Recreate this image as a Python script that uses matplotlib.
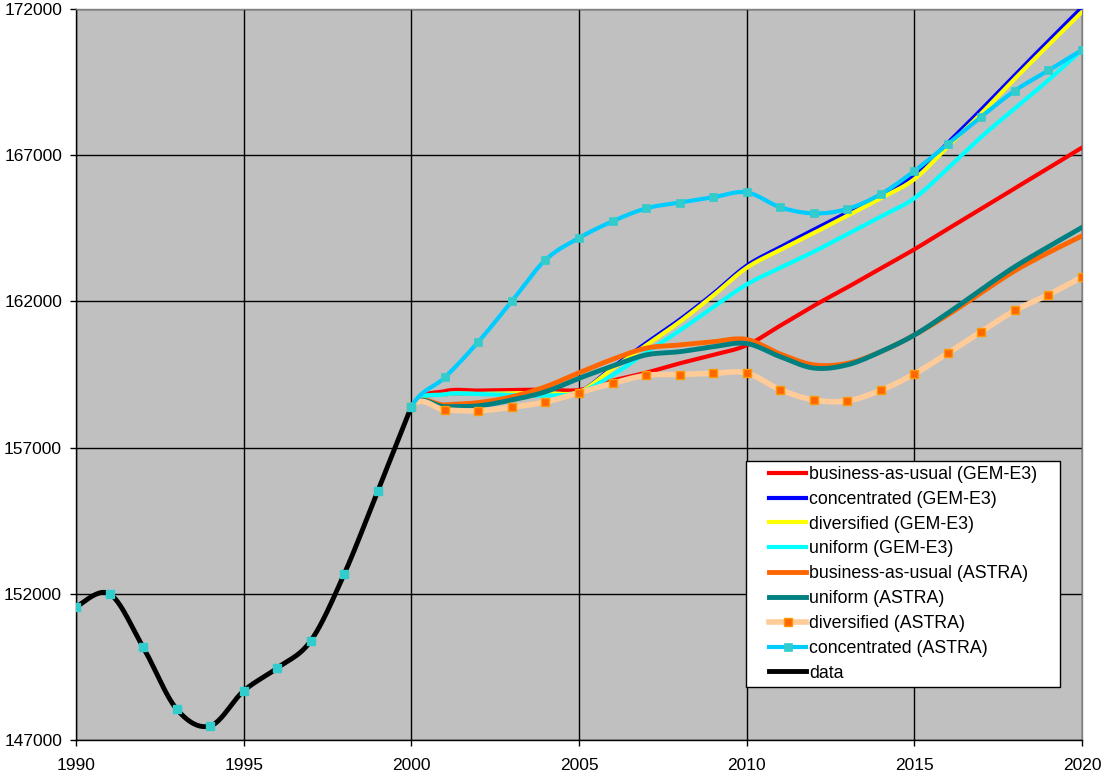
import numpy as np
import matplotlib
matplotlib.use("Agg")
import matplotlib.pyplot as plt
from matplotlib.patches import Rectangle

plt.rcParams['font.family'] = ['Liberation Sans', 'DejaVu Sans']

# ---------------- data ----------------
years_hist = [1990, 1991, 1992, 1993, 1994, 1995, 1996, 1997, 1998, 1999, 2000]
data_hist = [151550, 152000, 150180, 148060, 147480, 148680, 149460, 150390, 152680, 155520, 158400]

years_proj = list(range(2000, 2021))
bau_gem = [158400, 158930, 158950, 158970, 158980, 158970, 159290, 159560, 159880, 160170, 160500,
           161170, 161850, 162480, 163130, 163780, 164480, 165170, 165870, 166560, 167260]
conc_gem = [158400, 158820, 158840, 158860, 158870, 158900, 159740, 160570, 161370, 162260, 163220,
            163850, 164450, 165030, 165620, 166300, 167420, 168560, 169740, 170900, 172050]
div_gem = [158400, 158820, 158840, 158860, 158870, 158900, 159700, 160500, 161300, 162200, 163150,
           163760, 164340, 164930, 165530, 166180, 167300, 168430, 169620, 170770, 171900]
uni_gem = [158400, 158820, 158830, 158800, 158780, 158880, 159480, 160250, 161000, 161800, 162580,
           163150, 163700, 164300, 164900, 165530, 166550, 167630, 168600, 169570, 170600]
bau_astra = [158400, 158460, 158540, 158740, 159080, 159560, 160020, 160400, 160510, 160620, 160700,
             160200, 159830, 159880, 160280, 160850, 161540, 162300, 163050, 163670, 164240]
uni_astra = [158400, 158400, 158430, 158630, 158910, 159370, 159790, 160170, 160280, 160450, 160560,
             160110, 159720, 159830, 160280, 160850, 161600, 162410, 163190, 163870, 164530]
div_astra = [158400, 158290, 158260, 158380, 158560, 158880, 159200, 159470, 159500, 159540, 159550,
             158980, 158630, 158600, 158960, 159520, 160230, 160970, 161690, 162230, 162830]
conc_astra = [158400, 159400, 160620, 162010, 163420, 164170, 164740, 165180, 165380, 165560, 165730,
              165220, 165010, 165160, 165670, 166460, 167380, 168320, 169210, 169900, 170600]

labels = ["business-as-usual (GEM-E3)", "concentrated (GEM-E3)", "diversified (GEM-E3)",
          "uniform (GEM-E3)", "business-as-usual (ASTRA)", "uniform (ASTRA)",
          "diversified (ASTRA)", "concentrated (ASTRA)", "data"]

x_ticks = [1990, 1995, 2000, 2005, 2010, 2015, 2020]
y_ticks = [147000, 152000, 157000, 162000, 167000, 172000]


def smooth(x, y, n=24):
    """Excel-like smoothed line (Catmull-Rom Bezier)."""
    P = np.column_stack([np.asarray(x, float), np.asarray(y, float)])
    m = len(P)
    out = []
    for i in range(m - 1):
        p0 = P[i - 1] if i > 0 else P[i]
        p1 = P[i]
        p2 = P[i + 1]
        p3 = P[i + 2] if i + 2 < m else P[i + 1]
        c1 = p1 + (p2 - p0) / 6.0
        c2 = p2 - (p3 - p1) / 6.0
        t = np.linspace(0, 1, n, endpoint=(i == m - 2))[:, None]
        seg = ((1 - t) ** 3) * p1 + 3 * ((1 - t) ** 2) * t * c1 + 3 * (1 - t) * t ** 2 * c2 + t ** 3 * p2
        out.append(seg)
    out = np.vstack(out)
    return out[:, 0], out[:, 1]


def proj_curve(vals):
    xs = [years_hist[-2]] + years_proj
    ys = [data_hist[-2]] + list(vals)
    sx, sy = smooth(xs, ys)
    keep = sx >= years_proj[0]
    return sx[keep], sy[keep]


fig = plt.figure(figsize=(11.04, 7.78), dpi=100)
W, H = 1104, 778
ax = fig.add_axes([76 / W, 38 / H, (1082 - 76) / W, (740 - 9) / H])
ax.set_facecolor('#C0C0C0')

series = [
    (bau_gem, dict(color='#FF0000', lw=3.0)),
    (conc_gem, dict(color='#0000FF', lw=3.0)),
    (div_gem, dict(color='#FFFF00', lw=3.0)),
    (uni_gem, dict(color='#00FFFF', lw=3.0)),
    (bau_astra, dict(color='#FF6600', lw=3.5)),
    (uni_astra, dict(color='#008080', lw=3.5)),
    (div_astra, dict(color='#FFCC99', lw=4.0, marker='s', markersize=5.5,
                     markerfacecolor='#FF6600', markeredgecolor='#FF9900', markeredgewidth=1.0)),
    (conc_astra, dict(color='#00CCFF', lw=3.0, marker='s', markersize=5.5,
                      markerfacecolor='#33CCCC', markeredgecolor='#33CCCC', markeredgewidth=0.5)),
]

handles = []
for k, (vals, st) in enumerate(series):
    sx, sy = proj_curve(vals)
    line_st = {kk: v for kk, v in st.items() if not kk.startswith('marker')}
    ax.plot(sx, sy, solid_capstyle='round', zorder=3 + k * 0.01, **line_st)
    if 'marker' in st:
        mk = {kk: v for kk, v in st.items() if kk.startswith('marker')}
        ax.plot(years_proj, vals, linestyle='none', zorder=3 + k * 0.01 + 0.005, **mk)
    h, = ax.plot([], [], label=labels[k], **st)
    handles.append(h)

# historical data
hx, hy = smooth(years_hist, data_hist)
ax.plot(hx, hy, color='black', lw=3.5, zorder=3.2, solid_capstyle='round')
ax.plot(years_hist, data_hist, linestyle='none', marker='s', markersize=5.5,
        markerfacecolor='#33CCCC', markeredgecolor='#33CCCC', zorder=3.3)
h, = ax.plot([], [], color='black', lw=3.5, label=labels[-1])
handles.append(h)

ax.set_xlim(1990, 2020)
ax.set_ylim(147000, 172000)
ax.set_xticks(x_ticks)
ax.set_yticks(y_ticks)
ax.set_xticklabels([str(v) for v in x_ticks])
ax.set_yticklabels([str(v) for v in y_ticks])
ax.grid(True, color='black', lw=1.0, zorder=1)
ax.set_axisbelow(True)
ax.tick_params(axis='both', direction='out', length=4, width=1, color='black', labelsize=12.5)
ax.tick_params(axis='y', pad=6)
ax.tick_params(axis='x', pad=9)
for s in ['left', 'bottom']:
    ax.spines[s].set_color('black')
    ax.spines[s].set_linewidth(1.0)
for s in ['top', 'right']:
    ax.spines[s].set_color('#808080')
    ax.spines[s].set_linewidth(1.0)

# legend box
rect = Rectangle((746 / W, 1 - 687 / H), (1060 - 746) / W, (687 - 461) / H,
                 transform=fig.transFigure, facecolor='white', edgecolor='black', lw=1.0, zorder=10)
fig.patches.append(rect)
leg = fig.legend(handles=handles, loc='upper left', bbox_to_anchor=(769 / W, 1 - 466 / H),
                 frameon=False, fontsize=12.8, handlelength=2.1, handletextpad=0.15,
                 labelspacing=0.44, borderpad=0, borderaxespad=0)
leg.set_zorder(11)

fig.savefig('out.png', dpi=100)
